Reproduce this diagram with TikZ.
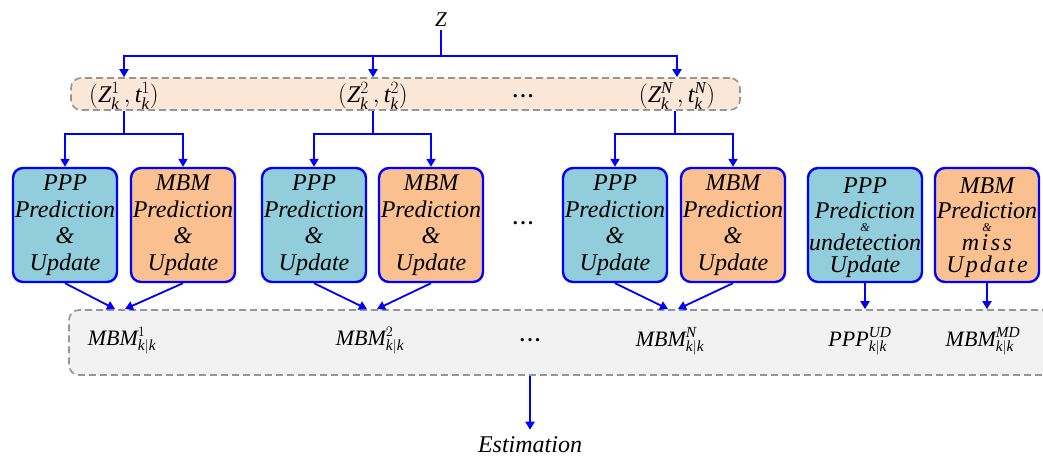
\documentclass[tikz,border=0pt]{standalone}
\usepackage{fontspec}
\setmainfont{Liberation Serif}
\usetikzlibrary{arrows.meta}

\definecolor{pppfill}{RGB}{146,205,220}
\definecolor{mbmfill}{RGB}{250,192,144}
\definecolor{pairfill}{RGB}{251,231,216}
\definecolor{outfill}{RGB}{242,242,242}
\definecolor{dashgray}{RGB}{150,150,150}
\definecolor{linkblue}{RGB}{0,0,255}

\newcommand{\txtfont}{\fontsize{24}{26.5}\selectfont\itshape}
\newcommand{\mathlbl}{\fontsize{22}{22}\selectfont}
\newcommand{\pairlbl}{\fontsize{24}{24}\selectfont}
\newcommand{\dotrow}{\textbf{.\hspace{2.6pt}.\hspace{2.6pt}.}}

\begin{document}
\begin{tikzpicture}[x=1pt,y=-1pt,
  link/.style={draw=linkblue, line width=1.8pt},
  arr/.style={link, -{Triangle[width=9pt,length=8pt]}},
  band/.style={draw=dashgray, dash pattern=on 7pt off 4pt, line width=1.6pt, rounded corners=10pt, inner sep=0pt},
  proc/.style={draw=linkblue, line width=2.4pt, rounded corners=10pt, minimum width=104pt, minimum height=114pt, inner sep=0pt, align=center, font=\txtfont},
  ppp/.style={proc, fill=pppfill},
  mbm/.style={proc, fill=mbmfill},
  line/.style={inner sep=0pt, font=\txtfont, anchor=base},
  mlbl/.style={inner sep=1pt, font=\mathlbl},
  plbl/.style={inner sep=1pt, font=\pairlbl},
  dots/.style={inner sep=1pt, font=\fontsize{20}{20}\selectfont}
]
\useasboundingbox (0,0) rectangle (1043,458);
\clip (0,0) rectangle (1043,458);

% measurement bands
\node[band, fill=pairfill, minimum width=669pt, minimum height=32pt] (pairs) at (405.5,94) {};
\node[band, fill=outfill, minimum width=1001pt, minimum height=65pt] (outs) at (569.5,342.5) {};

% input
\node[inner sep=3pt] (Z) at (441,20) {\fontsize{21}{21}\selectfont$\mathit{Z}$};

% partition cells
\node[plbl] (p1) at (124,96) {$(\mathit{Z}^{1}_{\mathit{k}}\,,\mathit{t}^{1}_{\mathit{k}})$};
\node[plbl] (p2) at (373,96) {$(\mathit{Z}^{2}_{\mathit{k}}\,,\mathit{t}^{2}_{\mathit{k}})$};
\node[dots] (pd) at (523,96) {\dotrow};
\node[plbl] (pN) at (677,96) {$(\mathit{Z}^{\mathit{N}}_{\mathit{k}}\,,\mathit{t}^{\mathit{N}}_{\mathit{k}})$};

% filters
\node[ppp] (b1) at (65,225) {PPP\\Prediction\\\&\\Update};
\node[mbm] (b2) at (183,225) {MBM\\Prediction\\\&\\Update};
\node[ppp] (b3) at (314,225) {PPP\\Prediction\\\&\\Update};
\node[mbm] (b4) at (431,225) {MBM\\Prediction\\\&\\Update};
\node[dots] (bd) at (523,223) {\dotrow};
\node[ppp] (b5) at (615,225) {PPP\\Prediction\\\&\\Update};
\node[mbm] (b6) at (733,225) {MBM\\Prediction\\\&\\Update};
\node[ppp, minimum width=114pt] (b7) at (865,225) {};
\node[mbm] (b8) at (987,225) {};

% undetected PPP text
\node[line] (b7l1) at (865,193) {PPP};
\node[line] (b7l2) at (865,218) {Prediction};
\node[line, font=\fontsize{12}{12}\selectfont\itshape] (b7l3) at (865,231) {\&};
\node[line] (b7l4) at (865,250) {undetection};
\node[line] (b7l5) at (865,272) {Update};

% missed MBM text
\node[line] (b8l1) at (987,193) {MBM};
\node[line] (b8l2) at (987,218) {Prediction};
\node[line, font=\fontsize{12}{12}\selectfont\itshape] (b8l3) at (987,231) {\&};
\node[line] (b8l4) at (987,250) {m\hspace{2.5pt}i\hspace{2.5pt}s\hspace{2.5pt}s};
\node[line] (b8l5) at (987,272) {\addfontfeature{LetterSpace=9}Update};

% results
\node[mlbl] (m1) at (122,341) {$\mathit{MBM}^{1}_{\mathit{k|k}}$};
\node[mlbl] (m2) at (370,341) {$\mathit{MBM}^{2}_{\mathit{k|k}}$};
\node[dots] (md) at (530,340) {\dotrow};
\node[mlbl] (mN) at (670,341) {$\mathit{MBM}^{\mathit{N}}_{\mathit{k|k}}$};
\node[mlbl] (mU) at (860,341) {$\mathit{PPP}^{\mathit{UD}}_{\mathit{k|k}}$};
\node[mlbl] (mM) at (983,341) {$\mathit{MBM}^{\mathit{MD}}_{\mathit{k|k}}$};

% output
\node[inner xsep=0pt, inner ysep=7pt, font=\txtfont] (est) at (530,445) {Estimation};

% join points
\coordinate (zbus) at (441,56);
\coordinate (j1) at (120,309);
\coordinate (j2) at (372,309);
\coordinate (j3) at (673,309);

% Z fan-out
\draw[link] (Z.south) -- (zbus);
\draw[arr] (zbus) -| (p1 |- pairs.north);
\draw[arr] (zbus) -| (p2 |- pairs.north);
\draw[arr] (zbus) -| (pN |- pairs.north);

% cells to filters
\draw[link] (p1 |- pairs.south) -- ++(0,23) coordinate (s1);
\draw[arr] (s1) -| (b1.north);
\draw[arr] (s1) -| (b2.north);
\draw[link] (p2 |- pairs.south) -- ++(0,23) coordinate (s2);
\draw[arr] (s2) -| (b3.north);
\draw[arr] (s2) -| (b4.north);
\draw[link] (pN.south |- pairs.south) ++(-2,0) -- ++(0,23) coordinate (s3);
\draw[arr] (s3) -| (b5.north);
\draw[arr] (s3) -| (b6.north);

% filters to results
\draw[arr] (b1.south) -- ([xshift=-5pt]j1);
\draw[arr] (b2.south) -- ([xshift=5pt]j1);
\draw[arr] (b3.south) -- ([xshift=-5pt]j2);
\draw[arr] (b4.south) -- ([xshift=5pt]j2);
\draw[arr] (b5.south) -- ([xshift=-5pt]j3);
\draw[arr] (b6.south) -- ([xshift=5pt]j3);
\draw[arr] (b7.south) -- (b7.south |- outs.north);
\draw[arr] (b8.south) -- (b8.south |- outs.north);

% estimation
\draw[arr] (est |- outs.south) -- (est.north);
\end{tikzpicture}
\end{document}
